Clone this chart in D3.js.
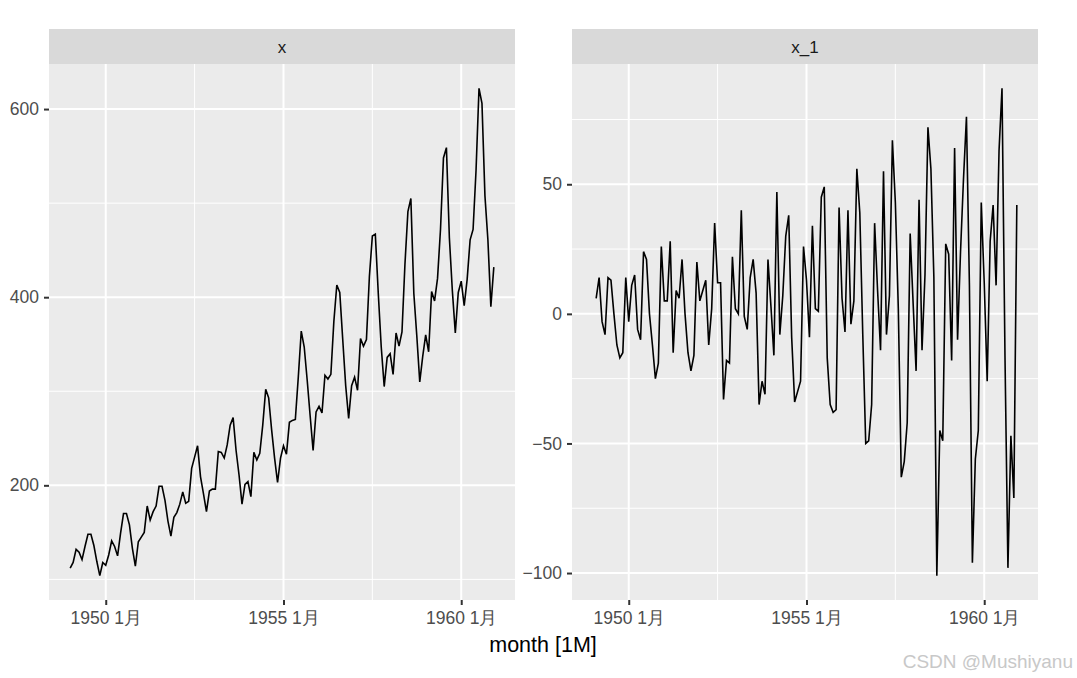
<!DOCTYPE html>
<html>
<head>
<meta charset="utf-8">
<script src="https://cdn.jsdelivr.net/npm/d3@7"></script>
<style>
  body { margin: 0; background: #fff; }
  text { font-family: "Liberation Sans", Arial, sans-serif; }
</style>
</head>
<body>
<svg id="chart" width="1077" height="678"></svg>
<script>
// monthly passengers, 1949 Jan .. 1960 Dec
const startYear = 1949;
const passengers = [
  112, 118, 132, 129, 121, 135, 148, 148, 136, 119, 104, 118,
  115, 126, 141, 135, 125, 149, 170, 170, 158, 133, 114, 140,
  145, 150, 178, 163, 172, 178, 199, 199, 184, 162, 146, 166,
  171, 180, 193, 181, 183, 218, 230, 242, 209, 191, 172, 194,
  196, 196, 236, 235, 229, 243, 264, 272, 237, 211, 180, 201,
  204, 188, 235, 227, 234, 264, 302, 293, 259, 229, 203, 229,
  242, 233, 267, 269, 270, 315, 364, 347, 312, 274, 237, 278,
  284, 277, 317, 313, 318, 374, 413, 405, 355, 306, 271, 306,
  315, 301, 356, 348, 355, 422, 465, 467, 404, 347, 305, 336,
  340, 318, 362, 348, 363, 435, 491, 505, 404, 359, 310, 337,
  360, 342, 406, 396, 420, 472, 548, 559, 463, 407, 362, 405,
  417, 391, 419, 461, 472, 535, 622, 606, 508, 461, 390, 432
];
// first difference (x_1); first month has no value
const diffs = passengers.map((v, i) => i === 0 ? null : v - passengers[i - 1]);

const xTicks = [1950, 1955, 1960];
const xMinor = [1952.5, 1957.5];
const leftTicks = [200, 400, 600];
const leftMinor = [100, 300, 500];
const rightTicks = [-100, -50, 0, 50];
const rightMinor = [-75, -25, 25, 75];

const svg = d3.select('#chart');
const panelTop = 64, panelBottom = 600, stripH = 35;
const panels = [
  { name: 'x', x0: 49, x1: 515, values: passengers, ticks: leftTicks, minor: leftMinor },
  { name: 'x_1', x0: 572, x1: 1038, values: diffs, ticks: rightTicks, minor: rightMinor }
];

const months = passengers.map((_, i) => startYear + i / 12);
const xPad = (months[months.length - 1] - months[0]) * 0.05;

panels.forEach(p => {
  const g = svg.append('g');
  const x = d3.scaleLinear()
    .domain([months[0] - xPad, months[months.length - 1] + xPad])
    .range([p.x0, p.x1]);
  const ext = d3.extent(p.values.filter(v => v !== null));
  const yPad = (ext[1] - ext[0]) * 0.05;
  const y = d3.scaleLinear()
    .domain([ext[0] - yPad, ext[1] + yPad])
    .range([panelBottom, panelTop]);

  // strip
  g.append('rect').attr('x', p.x0).attr('y', panelTop - stripH)
    .attr('width', p.x1 - p.x0).attr('height', stripH).attr('fill', '#d9d9d9');
  g.append('text').attr('x', (p.x0 + p.x1) / 2).attr('y', panelTop - stripH / 2 + 6)
    .attr('text-anchor', 'middle').attr('fill', '#1a1a1a').style('font-size', '17px')
    .text(p.name);

  // panel background
  g.append('rect').attr('x', p.x0).attr('y', panelTop)
    .attr('width', p.x1 - p.x0).attr('height', panelBottom - panelTop).attr('fill', '#ebebeb');

  // grid
  g.selectAll('.ymin').data(p.minor).join('line')
    .attr('x1', p.x0).attr('x2', p.x1).attr('y1', d => y(d)).attr('y2', d => y(d))
    .attr('stroke', '#fff').attr('stroke-width', 1);
  g.selectAll('.xmin').data(xMinor).join('line')
    .attr('y1', panelTop).attr('y2', panelBottom).attr('x1', d => x(d)).attr('x2', d => x(d))
    .attr('stroke', '#fff').attr('stroke-width', 1);
  g.selectAll('.ymaj').data(p.ticks).join('line')
    .attr('x1', p.x0).attr('x2', p.x1).attr('y1', d => y(d)).attr('y2', d => y(d))
    .attr('stroke', '#fff').attr('stroke-width', 2);
  g.selectAll('.xmaj').data(xTicks).join('line')
    .attr('y1', panelTop).attr('y2', panelBottom).attr('x1', d => x(d)).attr('x2', d => x(d))
    .attr('stroke', '#fff').attr('stroke-width', 2);

  // line
  const line = d3.line()
    .defined(d => d.v !== null)
    .x(d => x(d.t)).y(d => y(d.v));
  g.append('path')
    .datum(p.values.map((v, i) => ({ t: months[i], v })))
    .attr('d', line).attr('fill', 'none')
    .attr('stroke', '#000').attr('stroke-width', 1.6);

  // y axis
  const yAxis = g.append('g').attr('transform', `translate(${p.x0},0)`)
    .call(d3.axisLeft(y).tickValues(p.ticks).tickSize(5).tickPadding(5));
  yAxis.select('.domain').remove();
  yAxis.selectAll('line').attr('stroke', '#333').attr('stroke-width', 2);
  yAxis.selectAll('text').attr('fill', '#4d4d4d').style('font-size', '17.5px');

  // x axis
  const xAxis = g.append('g').attr('transform', `translate(0,${panelBottom})`)
    .call(d3.axisBottom(x).tickValues(xTicks).tickSize(5).tickPadding(7)
      .tickFormat(d => d + ' 1月'));
  xAxis.select('.domain').remove();
  xAxis.selectAll('line').attr('stroke', '#333').attr('stroke-width', 2);
  xAxis.selectAll('text').attr('fill', '#4d4d4d').style('font-size', '17.5px');
});

svg.append('text').attr('x', 543).attr('y', 652).attr('text-anchor', 'middle')
  .attr('fill', '#000').style('font-size', '21.5px').text('month [1M]');

svg.append('text').attr('x', 1073).attr('y', 668).attr('text-anchor', 'end')
  .attr('fill', '#c8c8c8').style('font-size', '19px').text('CSDN @Mushiyanu');
</script>
</body>
</html>
